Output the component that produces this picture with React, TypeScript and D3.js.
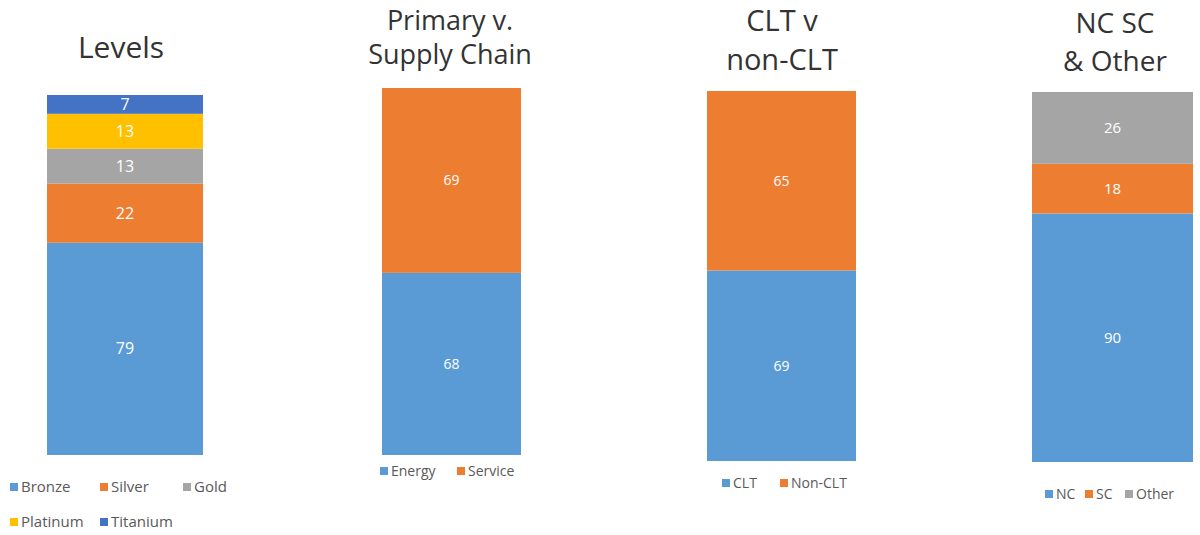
import React, { useEffect, useRef } from 'react';
import * as d3 from 'd3';

// data
const levelCats = ['Bronze', 'Silver', 'Gold', 'Platinum', 'Titanium'];
const levelVals = [79, 22, 13, 13, 7];

const supplyCats = ['Energy', 'Service'];
const supplyVals = [68, 69];

const cltCats = ['CLT', 'Non-CLT'];
const cltVals = [69, 65];

const regionCats = ['NC', 'SC', 'Other'];
const regionVals = [90, 18, 26];

const BLUE = '#5b9bd5';
const ORANGE = '#ed7d31';
const GRAY = '#a5a5a5';
const YELLOW = '#ffc000';
const DKBLUE = '#4472c4';

interface Panel {
  title: string[];
  titleX: number;
  titleYs: number[];
  titleSize: number;
  cats: string[];
  vals: number[];
  colors: string[];
  x0: number;
  x1: number;
  top: number;
  bottom: number;
  labelSize: number;
  legend: { x: number; y: number }[];
  legendSize: number;
}

const panels: Panel[] = [
  {
    title: ['Levels'], titleX: 121, titleYs: [58], titleSize: 30,
    cats: levelCats, vals: levelVals, colors: [BLUE, ORANGE, GRAY, YELLOW, DKBLUE],
    x0: 47, x1: 203, top: 95, bottom: 455, labelSize: 16,
    legend: [{ x: 10, y: 487 }, { x: 100, y: 487 }, { x: 183, y: 487 }, { x: 10, y: 522 }, { x: 100, y: 522 }],
    legendSize: 15,
  },
  {
    title: ['Primary v.', 'Supply Chain'], titleX: 450, titleYs: [30, 64], titleSize: 27,
    cats: supplyCats, vals: supplyVals, colors: [BLUE, ORANGE],
    x0: 382, x1: 521, top: 88, bottom: 455, labelSize: 14,
    legend: [{ x: 380, y: 471 }, { x: 457, y: 471 }],
    legendSize: 14,
  },
  {
    title: ['CLT v', 'non-CLT'], titleX: 782, titleYs: [31, 70], titleSize: 29,
    cats: cltCats, vals: cltVals, colors: [BLUE, ORANGE],
    x0: 707, x1: 856, top: 91, bottom: 461, labelSize: 14,
    legend: [{ x: 722, y: 483 }, { x: 780, y: 483 }],
    legendSize: 14,
  },
  {
    title: ['NC SC', '& Other'], titleX: 1115, titleYs: [33, 71], titleSize: 28,
    cats: regionCats, vals: regionVals, colors: [BLUE, ORANGE, GRAY],
    x0: 1032, x1: 1193, top: 92, bottom: 462, labelSize: 15,
    legend: [{ x: 1045, y: 494 }, { x: 1085, y: 494 }, { x: 1125, y: 494 }],
    legendSize: 14,
  },
];

const FONT = "'Open Sans', 'Noto Sans', sans-serif";

const App: React.FC = () => {
  const svgRef = useRef<SVGSVGElement>(null);

  useEffect(() => {
    if (!svgRef.current) return;
    const svg = d3.select(svgRef.current);
    svg.selectAll('*').remove();

    svg.append('rect').attr('width', 1200).attr('height', 535).attr('fill', '#fff');

    panels.forEach(p => {
      const g = svg.append('g');
      const total = d3.sum(p.vals);
      const y = d3.scaleLinear().domain([0, total]).range([p.bottom, p.top]);

      // title
      p.title.forEach((line, i) => {
        g.append('text')
          .attr('x', p.titleX)
          .attr('y', p.titleYs[i])
          .attr('text-anchor', 'middle')
          .attr('font-family', FONT)
          .attr('font-size', p.titleSize)
          .attr('fill', '#333')
          .text(line);
      });

      // stacked segments
      let acc = 0;
      const segs = p.vals.map((v, i) => {
        const s = { v, i, y0: acc, y1: acc + v };
        acc += v;
        return s;
      });

      g.selectAll('rect.seg')
        .data(segs)
        .enter()
        .append('rect')
        .attr('class', 'seg')
        .attr('x', p.x0)
        .attr('width', p.x1 - p.x0)
        .attr('y', d => y(d.y1))
        .attr('height', d => y(d.y0) - y(d.y1))
        .attr('fill', d => p.colors[d.i]);

      g.selectAll('text.lbl')
        .data(segs)
        .enter()
        .append('text')
        .attr('class', 'lbl')
        .attr('x', (p.x0 + p.x1) / 2)
        .attr('y', d => (y(d.y0) + y(d.y1)) / 2)
        .attr('dy', '0.35em')
        .attr('text-anchor', 'middle')
        .attr('font-family', FONT)
        .attr('font-size', p.labelSize)
        .attr('fill', '#fff')
        .text(d => d.v);

      // legend
      p.cats.forEach((c, i) => {
        const pos = p.legend[i];
        g.append('rect')
          .attr('x', pos.x)
          .attr('y', pos.y - 4)
          .attr('width', 8)
          .attr('height', 8)
          .attr('fill', p.colors[i]);
        g.append('text')
          .attr('x', pos.x + 11)
          .attr('y', pos.y)
          .attr('dy', '0.35em')
          .attr('font-family', FONT)
          .attr('font-size', p.legendSize)
          .attr('fill', '#595959')
          .text(c);
      });
    });
  }, []);

  return (
    <svg
      ref={svgRef}
      width={1200}
      height={535}
      style={{ position: 'absolute', left: 0, top: 0 }}
    />
  );
};

export default App;
